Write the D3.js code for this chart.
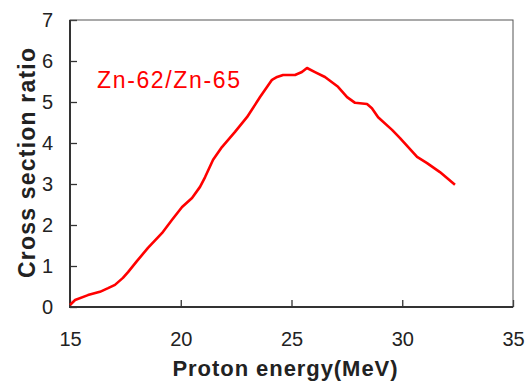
<!DOCTYPE html>
<html lang="en">
<head>
    <meta charset="UTF-8">
    <title>Zn-62/Zn-65 cross section ratio</title>
    <script src="https://d3js.org/d3.v7.min.js"></script>
    <style>
        body { margin: 0; background: #fff; }
        svg { display: block; }
        .tick text { font-family: "Liberation Sans", Arial, sans-serif; font-size: 20px; fill: #222; }
    </style>
</head>
<body>
    <svg id="chart" width="526" height="381"></svg>
    <script>
        // Proton energy (MeV) and Zn-62/Zn-65 ratio
        const energy = [15.0, 15.23, 15.81, 16.35, 16.72, 17.03, 17.39, 17.62, 18.02, 18.52,
                        19.15, 19.6, 20.06, 20.51, 20.87, 21.1, 21.46, 21.86, 22.45, 22.99,
                        23.58, 24.12, 24.35, 24.62, 25.16, 25.47, 25.7, 26.06, 26.51, 27.1,
                        27.51, 27.87, 28.41, 28.63, 28.91, 29.54, 29.9, 30.67, 31.12, 31.7, 32.38];
        const ratio = [0.05, 0.17, 0.29, 0.37, 0.46, 0.54, 0.71, 0.85, 1.12, 1.44,
                       1.8, 2.12, 2.44, 2.66, 2.93, 3.17, 3.59, 3.9, 4.27, 4.63,
                       5.12, 5.54, 5.61, 5.66, 5.66, 5.73, 5.83, 5.73, 5.61, 5.37,
                       5.12, 4.98, 4.95, 4.85, 4.63, 4.32, 4.12, 3.66, 3.51, 3.29, 2.98];
        const xTicks = [15, 20, 25, 30, 35];
        const yTicks = [0, 1, 2, 3, 4, 5, 6, 7];
        const seriesLabel = "Zn-62/Zn-65";

        const svg = d3.select("#chart");
        const margin = {top: 20, right: 13, bottom: 74, left: 70};
        const width = 526 - margin.left - margin.right;
        const height = 381 - margin.top - margin.bottom;
        const g = svg.append("g").attr("transform", `translate(${margin.left},${margin.top})`);

        const x = d3.scaleLinear().domain([15, 35]).range([0, width]);
        const y = d3.scaleLinear().domain([0, 7]).range([height, 0]);

        // axes with inward ticks
        const xAxis = g.append("g")
            .attr("transform", `translate(0,${height})`)
            .call(d3.axisBottom(x).tickValues(xTicks).tickFormat(d3.format("d")).tickSize(-7).tickPadding(25));
        const yAxis = g.append("g")
            .call(d3.axisLeft(y).tickValues(yTicks).tickFormat(d3.format("d")).tickSize(-7).tickPadding(17));
        [xAxis, yAxis].forEach(a => {
            a.select(".domain").remove();
            a.selectAll(".tick line").attr("stroke", "#333").attr("stroke-width", 1.3);
        });

        // frame
        g.append("rect")
            .attr("width", width).attr("height", height)
            .attr("fill", "none").attr("stroke", "#555").attr("stroke-width", 1);
        g.append("path")
            .attr("d", `M0,0V${height}H${width}`)
            .attr("fill", "none").attr("stroke", "#333").attr("stroke-width", 2);

        const data = energy.map((e, i) => ({x: e, y: ratio[i]}));
        const line = d3.line().x(d => x(d.x)).y(d => y(d.y));
        g.append("path")
            .datum(data)
            .attr("fill", "none")
            .attr("stroke", "#ff0000")
            .attr("stroke-width", 2.6)
            .attr("stroke-linejoin", "round")
            .attr("d", line);

        // series label
        g.append("text")
            .attr("x", 27).attr("y", 68)
            .attr("fill", "#ff0000")
            .style("font-family", "Liberation Sans, Arial, sans-serif")
            .style("font-size", "23px")
            .attr("textLength", 143)
            .text(seriesLabel);

        // axis titles
        svg.append("text")
            .attr("x", 285).attr("y", 376)
            .attr("text-anchor", "middle")
            .style("font-family", "Liberation Sans, Arial, sans-serif")
            .style("font-size", "22px")
            .style("font-weight", "bold")
            .attr("fill", "#222")
            .attr("textLength", 225)
            .text("Proton energy(MeV)");
        svg.append("text")
            .attr("transform", "translate(35,163) rotate(-90)")
            .attr("text-anchor", "middle")
            .style("font-family", "Liberation Sans, Arial, sans-serif")
            .style("font-size", "23px")
            .style("font-weight", "bold")
            .attr("fill", "#222")
            .attr("textLength", 230)
            .text("Cross section ratio");
    </script>
</body>
</html>
